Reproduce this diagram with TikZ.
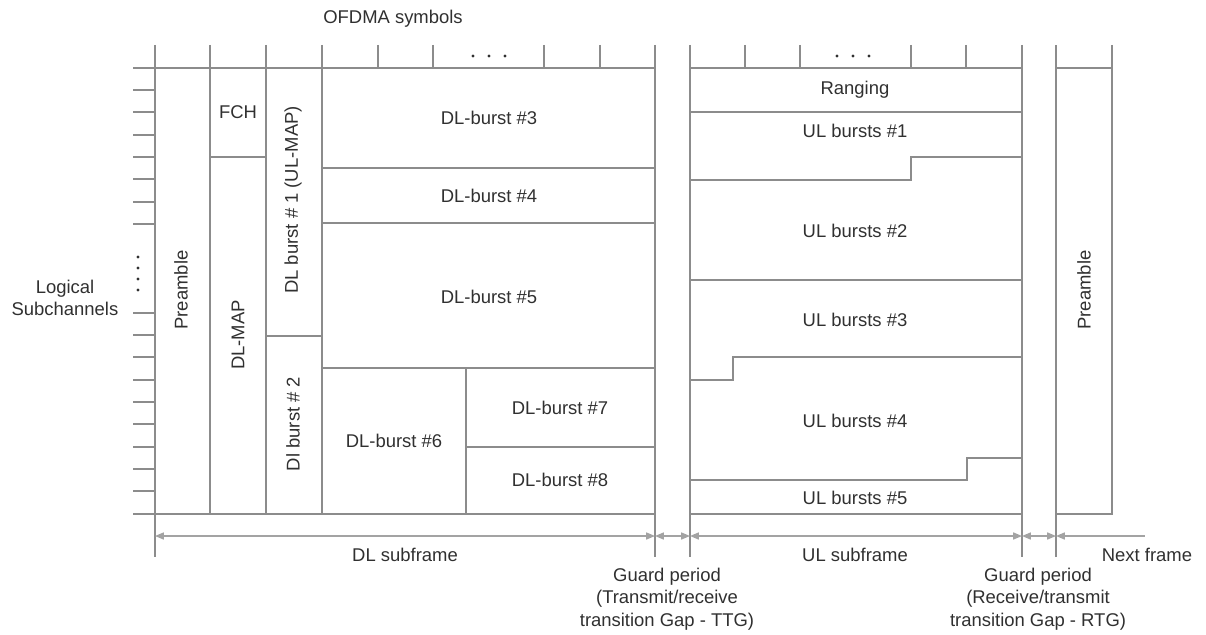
\documentclass[tikz,border=0pt]{standalone}
\usepackage{fontspec}
\setmainfont{Liberation Sans}
\usetikzlibrary{arrows.meta}
\definecolor{linegray}{HTML}{8C8C8C}
\definecolor{dimgray}{HTML}{A3A3A3}
\definecolor{txtgray}{HTML}{303030}
\tikzset{
  frame/.style={draw=linegray, line width=0.8pt},
  lbl/.style={font=\fontsize{10.5}{12.8}\selectfont, text=txtgray, inner sep=0pt},
  vlbl/.style={lbl, rotate=90},
  dim/.style={draw=dimgray, line width=0.7pt,
    {Triangle[length=5pt,width=4pt]}-{Triangle[length=5pt,width=4pt]}},
}
\begin{document}
\begin{tikzpicture}[x=0.02cm, y=-0.02cm]
  \useasboundingbox (0,0) rectangle (1206,635);
  % axis labels
  \node[lbl] (ofdma) at (393,19) {OFDMA symbols};
  \node[lbl, align=center] (logic) at (65,298) {Logical\\Subchannels};
  \foreach \y in {90,112,135,157,179,202,224,313,335,357,380,402,424,447,469,491}{
    \draw[frame] (133,\y) -- (155,\y);
  }
  \foreach \y in {257,268,279,290}{
    \fill[txtgray] (138,\y) circle (0.9pt);
  }
  % DL subframe
  \draw[frame] (133,68) -- (655,68) (133,514) -- (655,514);
  \foreach \x in {155,655} \draw[frame] (\x,45) -- (\x,557);
  \foreach \x in {210,266,322} \draw[frame] (\x,45) -- (\x,514);
  \foreach \x in {378,433,544,600} \draw[frame] (\x,45) -- (\x,68);
  \foreach \x in {473,489,505} \fill[txtgray] (\x,56) circle (0.9pt);
  \draw[frame] (210,157) -- (266,157) (266,336) -- (322,336);
  \draw[frame] (322,168) -- (655,168) (322,223) -- (655,223)
    (322,368) -- (655,368) (466,368) -- (466,514) (466,447) -- (655,447);
  \node[vlbl] (pre1) at (181,290) {Preamble};
  \node[lbl] (fch) at (238,112) {FCH};
  \node[vlbl] (dlmap) at (238,335) {DL-MAP};
  \node[vlbl] (dlb1) at (293,200) {DL burst \# 1 (UL-MAP)};
  \node[vlbl] (dlb2) at (293,424) {Dl burst \# 2};
  \node[lbl] (dlb3) at (489,118) {DL-burst \#3};
  \node[lbl] (dlb4) at (489,196) {DL-burst \#4};
  \node[lbl] (dlb5) at (489,297) {DL-burst \#5};
  \node[lbl] (dlb6) at (394,441) {DL-burst \#6};
  \node[lbl] (dlb7) at (560,408) {DL-burst \#7};
  \node[lbl] (dlb8) at (560,480) {DL-burst \#8};
  % UL subframe
  \draw[frame] (690,68) -- (1022,68) (690,514) -- (1022,514);
  \foreach \x in {690,1022} \draw[frame] (\x,45) -- (\x,557);
  \foreach \x in {745,800,911,966} \draw[frame] (\x,45) -- (\x,68);
  \foreach \x in {837,853,869} \fill[txtgray] (\x,56) circle (0.9pt);
  \draw[frame] (690,112) -- (1022,112);
  \draw[frame] (690,180) -| (911,157) -- (1022,157);
  \draw[frame] (690,280) -- (1022,280);
  \draw[frame] (690,380) -| (733,357) -- (1022,357);
  \draw[frame] (690,480) -| (967,458) -- (1022,458);
  \node[lbl] (rng) at (855,90) {Ranging};
  \node[lbl] (ulb1) at (855,131) {UL bursts \#1};
  \node[lbl] (ulb2) at (855,231) {UL bursts \#2};
  \node[lbl] (ulb3) at (855,320) {UL bursts \#3};
  \node[lbl] (ulb4) at (855,421) {UL bursts \#4};
  \node[lbl] (ulb5) at (855,498) {UL bursts \#5};
  % next frame
  \draw[frame] (1056,557) -- (1056,45) (1112,45) -- (1112,514) -- (1056,514)
    (1056,68) -- (1112,68);
  \node[vlbl] (pre2) at (1084,290) {Preamble};
  % dimension lines
  \coordinate (d0) at (155,536);
  \coordinate (d1) at (655,536);
  \coordinate (d2) at (690,536);
  \coordinate (d3) at (1022,536);
  \coordinate (d4) at (1056,536);
  \coordinate (d5) at (1145,536);
  \draw[dim] (d0) -- (d1);
  \draw[dim] (d1) -- (d2);
  \draw[dim] (d2) -- (d3);
  \draw[dim] (d3) -- (d4);
  \draw[dim, {Triangle[length=5pt,width=4pt]}-] (d4) -- (d5);
  \node[lbl] (dlsub) at (405,555) {DL subframe};
  \node[lbl] (ulsub) at (855,555) {UL subframe};
  \node[lbl] (nxt) at (1147,555) {Next frame};
  \node[lbl, align=center] (ttg) at (667,599)
    {Guard period\\(Transmit/receive\\transition Gap - TTG)};
  \node[lbl, align=center] (rtg) at (1038,599)
    {Guard period\\(Receive/transmit\\transition Gap - RTG)};
\end{tikzpicture}
\end{document}
